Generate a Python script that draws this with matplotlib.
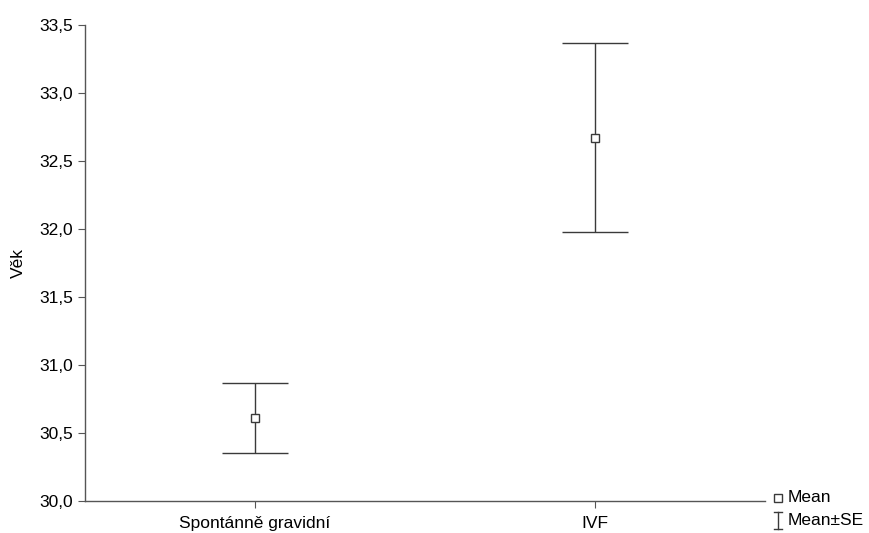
import matplotlib.pyplot as plt
from matplotlib.ticker import FuncFormatter, MultipleLocator

plt.rcParams['font.family'] = ['Liberation Sans', 'DejaVu Sans']

# data
groups = ['Spontánně gravidní', 'IVF']
means = [30.61, 32.67]
se = [0.257, 0.695]

col = '#3a3a3a'
fs = 12.5
fig = plt.figure(figsize=(8.69, 5.33), dpi=100)
ax = fig.add_axes([85 / 869, 32 / 533, 680 / 869, 476 / 533])

x = list(range(len(groups)))
ax.errorbar(x, means, yerr=se, fmt='s', mfc='white', mec=col, ms=6, mew=1,
            ecolor=col, elinewidth=1, capsize=24, capthick=1.2, color=col)

ax.set_xlim(-0.5, 1.5)
ax.set_ylim(30.0, 33.5)
ax.yaxis.set_major_locator(MultipleLocator(0.5))
ax.yaxis.set_major_formatter(FuncFormatter(lambda v, p: f'{v:.1f}'.replace('.', ',')))
ax.set_xticks(x)
ax.set_xticklabels(groups)
ax.set_ylabel('Věk', fontsize=fs, labelpad=10)

for s in ['top', 'right']:
    ax.spines[s].set_visible(False)
for s in ['left', 'bottom']:
    ax.spines[s].set_color('#555555')
    ax.spines[s].set_linewidth(1)
ax.tick_params(axis='both', colors='#555555', labelcolor='black', labelsize=fs, length=5)
ax.tick_params(axis='x', pad=6)

# legend outside the axes, bottom right
ax.plot([1.019], [0.007], 's', mfc='white', mec=col, ms=5.5, mew=1,
        transform=ax.transAxes, clip_on=False)
ax.text(1.034, 0.007, 'Mean', transform=ax.transAxes, va='center', fontsize=fs)
lx, ly0, ly1 = 1.019, -0.058, -0.024
ax.plot([lx, lx], [ly0, ly1], color=col, lw=1, transform=ax.transAxes, clip_on=False)
ax.plot([lx - 0.006, lx + 0.006], [ly1, ly1], color=col, lw=1, transform=ax.transAxes, clip_on=False)
ax.plot([lx - 0.006, lx + 0.006], [ly0, ly0], color=col, lw=1, transform=ax.transAxes, clip_on=False)
ax.text(1.034, -0.042, 'Mean±SE', transform=ax.transAxes, va='center', fontsize=fs)

fig.savefig('out.png', dpi=100)
